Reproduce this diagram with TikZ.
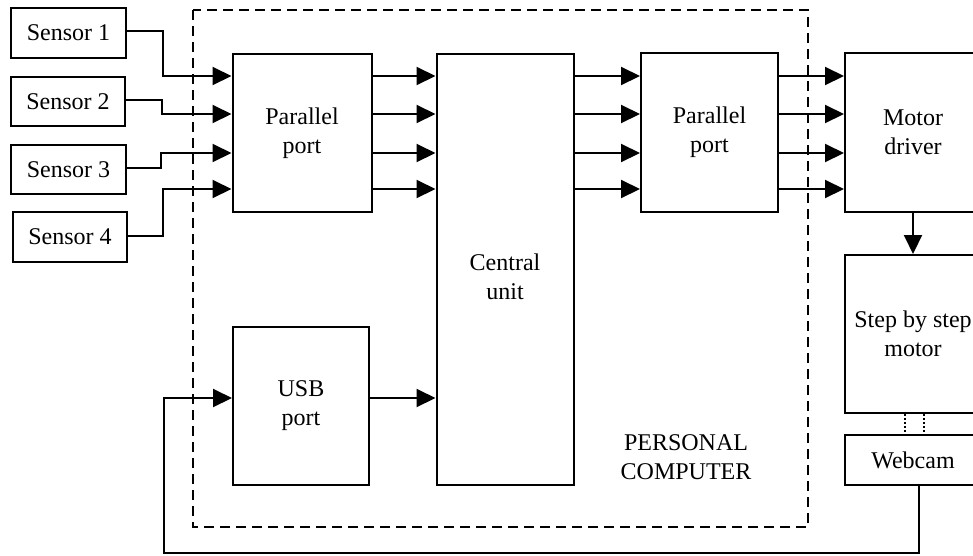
\documentclass[tikz,border=0pt]{standalone}
\usepackage{fontspec}
\setmainfont{Liberation Serif}
\usetikzlibrary{arrows.meta}
\begin{document}
\begin{tikzpicture}[x=1pt,y=-1pt,
  blk/.style={draw,line width=2pt,inner sep=0pt,align=center,
    font=\fontsize{24}{29}\selectfont},
  lbl/.style={align=center,inner sep=0pt,font=\fontsize{24}{29}\selectfont},
  arr/.style={line width=2pt,-{Triangle[length=19pt,width=18pt]}},
  frame/.style={line width=2.6pt,dash pattern=on 10pt off 6pt}]
\useasboundingbox (0,0) rectangle (973,555);
\clip (0,0) rectangle (973,555);
% enclosure
\draw[frame] (193,10) rectangle (808,527);
% sensors
\node[blk,minimum width=115pt,minimum height=50pt] (s1) at (68.5,33) {Sensor 1};
\node[blk,minimum width=114pt,minimum height=49pt] (s2) at (68,101.5) {Sensor 2};
\node[blk,minimum width=115pt,minimum height=49pt] (s3) at (68.5,169.5) {Sensor 3};
\node[blk,minimum width=114pt,minimum height=50pt] (s4) at (70,237) {Sensor 4};
% blocks
\node[blk,minimum width=139pt,minimum height=158pt] (pp1) at (302,133) {Parallel\\port};
\node[blk,minimum width=137pt,minimum height=431pt] (cu) at (505,269.5) {};
\node[lbl] (cut) at (505,277) {Central\\unit};
\node[blk,minimum width=137pt,minimum height=159pt] (pp2) at (709.5,132.5) {Parallel\\port};
\node[blk,minimum width=136pt,minimum height=159pt] (md) at (913,132.5) {Motor\\driver};
\node[blk,minimum width=136pt,minimum height=158pt] (sm) at (913,334) {Step by step\\motor};
\node[blk,minimum width=136pt,minimum height=50pt] (wc) at (913,460) {Webcam};
\node[blk,minimum width=136pt,minimum height=158pt] (usb) at (301,406) {USB\\port};
\node[lbl] (pc) at (686,457) {PERSONAL\\COMPUTER};
% sensor connectors
\draw[arr] (s1.east |- {(0,31)}) -- (163,31) |- (pp1.west |- {(0,76)});
\draw[arr] (s2.east |- {(0,100)}) -- (162,100) |- (pp1.west |- {(0,114)});
\draw[arr] (s3.east |- {(0,168)}) -- (161,168) |- (pp1.west |- {(0,153)});
\draw[arr] (s4.east |- {(0,236)}) -- (163,236) |- (pp1.west |- {(0,189)});
% buses
\foreach \yy in {76,114,153,189}{
  \draw[arr] (pp1.east |- {(0,\yy)}) -- (cu.west |- {(0,\yy)});
  \draw[arr] (cu.east |- {(0,\yy)}) -- (pp2.west |- {(0,\yy)});
  \draw[arr] (pp2.east |- {(0,\yy)}) -- (md.west |- {(0,\yy)});
}
% motor driver to motor
\draw[arr] (md.south) -- (sm.north);
% mechanical link
\draw[line width=2.2pt,dash pattern=on 2pt off 2pt] ([xshift=-8pt]sm.south) -- ([xshift=-8pt]wc.north);
\draw[line width=2.2pt,dash pattern=on 2pt off 2pt] ([xshift=11pt]sm.south) -- ([xshift=11pt]wc.north);
% webcam feedback
\coordinate (fb) at (164,553);
\draw[arr] ([xshift=6pt]wc.south) |- (fb) |- (usb.west |- {(0,398)});
\draw[arr] (usb.east |- {(0,398)}) -- (cu.west |- {(0,398)});
\end{tikzpicture}
\end{document}
